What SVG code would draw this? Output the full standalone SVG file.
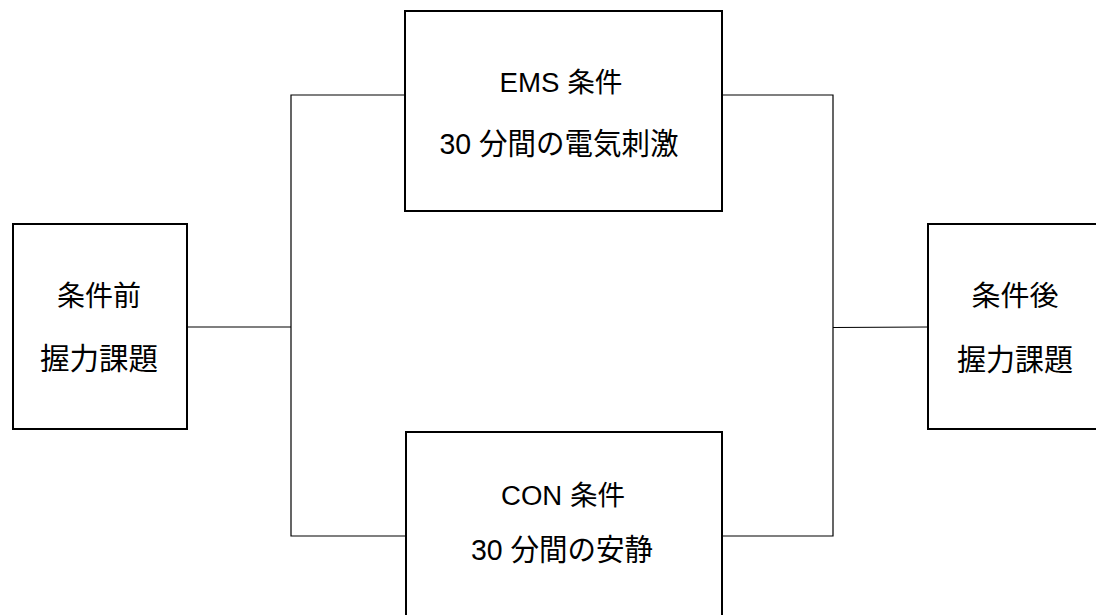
<svg xmlns="http://www.w3.org/2000/svg" width="1096" height="615" viewBox="0 0 1096 615">
<style>
.box{fill:#fff;stroke:#000;stroke-width:2}
.conn{fill:none;stroke:#000;stroke-width:1.2}
text{font-family:"Liberation Sans","Noto Sans CJK JP",sans-serif;fill:#000;text-anchor:middle}
.s1{font-size:27px}
.s1b{font-size:28px}
.s2{font-size:30px}
</style>
<rect width="1096" height="615" fill="#fff"/>
<g id="connectors">
<polyline class="conn" points="187,327 291,327"/>
<polyline class="conn" points="405,95 291,95 291,536 406,536"/>
<polyline class="conn" points="722,95 833,95 833,536 722,536"/>
<polyline class="conn" points="833,327.5 928,327"/>
</g>
<g id="pre">
<rect class="box" x="13" y="224" width="174" height="205"/>
<text class="s1b" x="99" y="306" textLength="84" lengthAdjust="spacingAndGlyphs">条件前</text>
<text class="s2" x="99" y="369" textLength="118" lengthAdjust="spacingAndGlyphs">握力課題</text>
</g>
<g id="ems">
<rect class="box" x="405" y="11" width="317" height="200"/>
<text class="s1" x="561" y="92" textLength="123" lengthAdjust="spacingAndGlyphs">EMS 条件</text>
<text class="s2" x="559" y="154" textLength="239" lengthAdjust="spacingAndGlyphs">30 分間の電気刺激</text>
</g>
<g id="con">
<rect class="box" x="406" y="432" width="316" height="200"/>
<text class="s1" x="563" y="505" textLength="124" lengthAdjust="spacingAndGlyphs">CON 条件</text>
<text class="s2" x="562" y="560" textLength="182" lengthAdjust="spacingAndGlyphs">30 分間の安静</text>
</g>
<g id="post">
<rect class="box" x="928" y="224" width="174" height="205"/>
<text class="s1b" x="1015" y="306" textLength="87" lengthAdjust="spacingAndGlyphs">条件後</text>
<text class="s2" x="1015" y="370" textLength="116" lengthAdjust="spacingAndGlyphs">握力課題</text>
</g>
</svg>
